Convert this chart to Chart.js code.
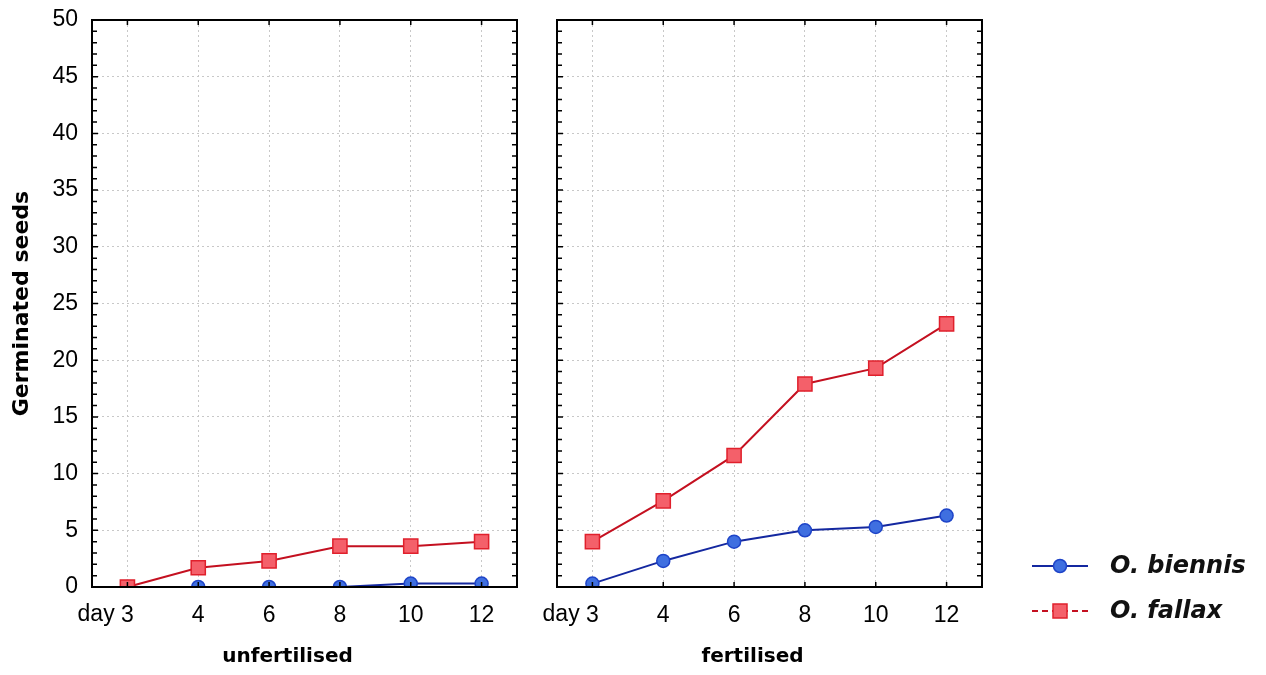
<!DOCTYPE html>
<html>
<head>
<meta charset="utf-8">
<title>Germinated seeds</title>
<script src="https://cdn.jsdelivr.net/npm/chart.js@4.4.1/dist/chart.umd.min.js"></script>
<style>
  html, body { margin: 0; padding: 0; background: #fff; }
  #wrap { position: relative; width: 1266px; height: 675px; }
  #left { position: absolute; left: 0; top: 0; }
  #right { position: absolute; left: 530px; top: 0; }
</style>
</head>
<body>
<div id="wrap">
  <canvas id="left" width="530" height="675"></canvas>
  <canvas id="right" width="736" height="675"></canvas>
</div>
<script>
// days after sowing
var days = ['3', '4', '6', '8', '10', '12'];
var seriesNames = ['O. biennis', 'O. fallax'];
var panelNames = ['unfertilised', 'fertilised'];

// germinated seeds per day
var biennisUnfert = [0, 0, 0, 0, 0.3, 0.3];
var fallaxUnfert  = [0, 1.7, 2.3, 3.6, 3.6, 4.0];
var biennisFert   = [0.3, 2.3, 4.0, 5.0, 5.3, 6.3];
var fallaxFert    = [4.0, 7.6, 11.6, 17.9, 19.3, 23.2];

var yMin = 0, yMax = 50, yStep = 5;

var tickFont = { family: 'Liberation Sans', size: 23 };
var boldFont = 'bold 20px "DejaVu Sans"';

function makeDatasets(biennis, fallax) {
  return [
    {
      label: seriesNames[0],
      data: biennis,
      order: 1,
      borderColor: '#1428a0',
      borderWidth: 2,
      tension: 0,
      clip: 1,
      pointStyle: 'circle',
      pointRadius: 6.5,
      pointBackgroundColor: '#3f6fe0',
      pointBorderColor: '#1e44c8',
      pointBorderWidth: 1.5
    },
    {
      label: seriesNames[1],
      data: fallax,
      order: 0,
      borderColor: '#c41020',
      borderWidth: 2,
      tension: 0,
      clip: 1,
      pointStyle: 'rect',
      pointRadius: 10,
      pointBackgroundColor: '#f4606a',
      pointBorderColor: '#e0202c',
      pointBorderWidth: 1.5,
      legendDash: [6, 4]
    }
  ];
}

// frame, inward ticks, "day" prefix and panel caption
var framePlugin = {
  id: 'frame',
  afterDraw: function(chart, args, opts) {
    var a = chart.chartArea, ctx = chart.ctx;
    var xs = chart.scales.x, ys = chart.scales.y;
    ctx.save();
    ctx.strokeStyle = '#000';
    ctx.lineWidth = 1.5;
    ctx.beginPath();
    for (var v = yMin; v <= yMax; v++) {
      var py = ys.getPixelForValue(v);
      var len = v % yStep === 0 ? 6 : 5;
      ctx.moveTo(a.left, py); ctx.lineTo(a.left + len, py);
      ctx.moveTo(a.right, py); ctx.lineTo(a.right - len, py);
    }
    for (var i = 0; i < days.length; i++) {
      var px = xs.getPixelForTick(i);
      ctx.moveTo(px, a.top); ctx.lineTo(px, a.top + 5);
      ctx.moveTo(px, a.bottom); ctx.lineTo(px, a.bottom - 5);
    }
    ctx.stroke();
    ctx.lineWidth = 2;
    ctx.strokeRect(a.left, a.top, a.right - a.left, a.bottom - a.top);

    ctx.fillStyle = '#000';
    ctx.font = tickFont.size + 'px "' + tickFont.family + '"';
    ctx.textAlign = 'right';
    ctx.textBaseline = 'middle';
    var x0 = xs.getPixelForTick(0);
    var shift = ctx.measureText(days[0]).width / 2 + ctx.measureText(' ').width;
    ctx.fillText('day', x0 - shift, a.bottom + opts.labelOffset);

    ctx.font = boldFont;
    ctx.textAlign = 'center';
    ctx.fillText(opts.caption, (a.left + a.right) / 2 - 17, 657);
    ctx.restore();
  }
};

// legend to the right of the second panel
var sideLegend = {
  id: 'sideLegend',
  afterDraw: function(chart) {
    var ctx = chart.ctx;
    ctx.save();
    chart.data.datasets.forEach(function(ds, i) {
      var cy = 566 + i * 45, cx = 530;
      ctx.strokeStyle = ds.borderColor;
      ctx.lineWidth = 2;
      ctx.setLineDash(ds.legendDash || []);
      ctx.beginPath();
      ctx.moveTo(502, cy); ctx.lineTo(558, cy);
      ctx.stroke();
      ctx.setLineDash([]);
      ctx.fillStyle = ds.pointBackgroundColor;
      ctx.strokeStyle = ds.pointBorderColor;
      ctx.lineWidth = ds.pointBorderWidth;
      ctx.beginPath();
      if (ds.pointStyle === 'rect') {
        ctx.rect(cx - 7, cy - 7, 14, 14);
      } else {
        ctx.arc(cx, cy, ds.pointRadius, 0, Math.PI * 2);
      }
      ctx.fill();
      ctx.stroke();
      ctx.fillStyle = '#111';
      ctx.font = 'italic bold 24px "DejaVu Sans"';
      ctx.textAlign = 'left';
      ctx.textBaseline = 'middle';
      ctx.fillText(ds.label, 580, cy + 1);
    });
    ctx.restore();
  }
};

function makeChart(id, biennis, fallax, caption, showY, yWidth, padRight, extra) {
  var ctx = document.getElementById(id).getContext('2d');
  return new Chart(ctx, {
    type: 'line',
    data: { labels: days, datasets: makeDatasets(biennis, fallax) },
    options: {
      responsive: false,
      animation: false,
      devicePixelRatio: 1,
      layout: { padding: { left: 0, right: padRight, top: 20, bottom: 0 } },
      scales: {
        x: {
          offset: true,
          grid: { color: '#c8c8c8', drawTicks: false },
          border: { display: false, dash: [2, 3] },
          ticks: { color: '#000', font: tickFont, padding: 15, maxRotation: 0 },
          afterFit: function(s) { s.height = 88; }
        },
        y: {
          min: yMin,
          max: yMax,
          grid: { color: '#c8c8c8', drawTicks: false },
          border: { display: false, dash: [2, 3] },
          ticks: { display: showY, stepSize: yStep, color: '#000', font: tickFont, padding: 14 },
          title: {
            display: showY,
            text: 'Germinated seeds',
            color: '#000',
            font: { family: 'DejaVu Sans', size: 22, weight: 'bold' },
            padding: { top: 9, bottom: 4 }
          },
          afterFit: function(s) {
            s.width = yWidth;
            s.paddingTop = 0;
            s.paddingBottom = 0;
          }
        }
      },
      plugins: {
        legend: { display: false },
        tooltip: { enabled: false },
        frame: { caption: caption, labelOffset: 28 }
      }
    },
    plugins: [framePlugin].concat(extra)
  });
}

makeChart('left', biennisUnfert, fallaxUnfert, panelNames[0], true, 92, 13, []);
makeChart('right', biennisFert, fallaxFert, panelNames[1], false, 27, 284, [sideLegend]);
</script>
</body>
</html>
